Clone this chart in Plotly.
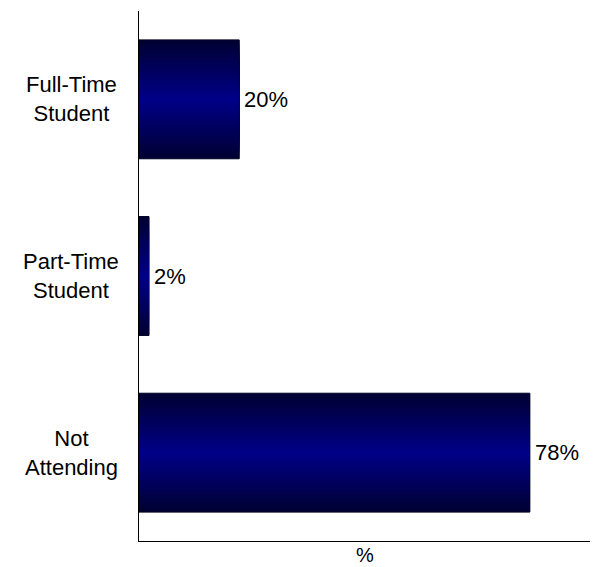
import plotly.graph_objects as go

categories = ["Full-Time<br>Student", "Part-Time<br>Student", "Not<br>Attending"]
values = [20, 2, 78]
value_labels = ["20%", "2%", "78%"]
axis_title = "%"

FONT = "Liberation Sans, Arial, sans-serif"
FS = 22
n_layers = 24
full_width = 0.673
edge_rgb = (0, 0, 0x34)
center_rgb = (0, 0, 0x86)

fig = go.Figure()
ypos = list(range(len(categories)))
for k in range(n_layers):
    t = k / (n_layers - 1)
    r = int(edge_rgb[0] + (center_rgb[0] - edge_rgb[0]) * t)
    g = int(edge_rgb[1] + (center_rgb[1] - edge_rgb[1]) * t)
    b = int(edge_rgb[2] + (center_rgb[2] - edge_rgb[2]) * t)
    w = full_width * (1 - k / n_layers)
    outer = k == 0
    fig.add_trace(go.Bar(
        y=ypos, x=values, orientation="h",
        width=w,
        marker=dict(color=f"rgb({r},{g},{b})",
                    line=dict(width=1 if outer else 0, color="#000020")),
        hoverinfo="skip",
        showlegend=False,
    ))

ML, MR, MT, MB = 139, 3, 11, 26
W, H = 593, 567
plot_w = W - ML - MR
plot_h = H - MT - MB

annotations = []
for i, c in enumerate(categories):
    annotations.append(dict(
        text=c, xref="paper", yref="y", x=(71 - ML) / plot_w, y=i,
        xanchor="center", yanchor="middle", align="center", showarrow=False,
        font=dict(family=FONT, size=FS, color="#000000"),
    ))
for i, (v, lab) in enumerate(zip(values, value_labels)):
    annotations.append(dict(
        text=lab, xref="x", yref="y", x=v, y=i, xshift=3,
        xanchor="left", yanchor="middle", showarrow=False,
        font=dict(family=FONT, size=FS, color="#000000"),
    ))
annotations.append(dict(
    text=axis_title, xref="paper", yref="paper", x=0.5,
    y=-(H - (H - MB)) / plot_h, xanchor="center", yanchor="bottom",
    borderpad=0, showarrow=False,
    font=dict(family=FONT, size=FS - 2, color="#000000"),
))

fig.update_layout(
    width=W, height=H,
    margin=dict(l=ML, r=MR, t=MT, b=MB, pad=0),
    barmode="overlay",
    plot_bgcolor="white", paper_bgcolor="white",
    xaxis=dict(range=[0, 90], showline=True, linecolor="#000000", linewidth=1,
               showgrid=False, zeroline=False, showticklabels=False, ticks=""),
    yaxis=dict(range=[2.5, -0.5], showline=True, linecolor="#000000", linewidth=1,
               showgrid=False, zeroline=False, showticklabels=False, ticks=""),
    annotations=annotations,
)

fig.write_html("out.html")
